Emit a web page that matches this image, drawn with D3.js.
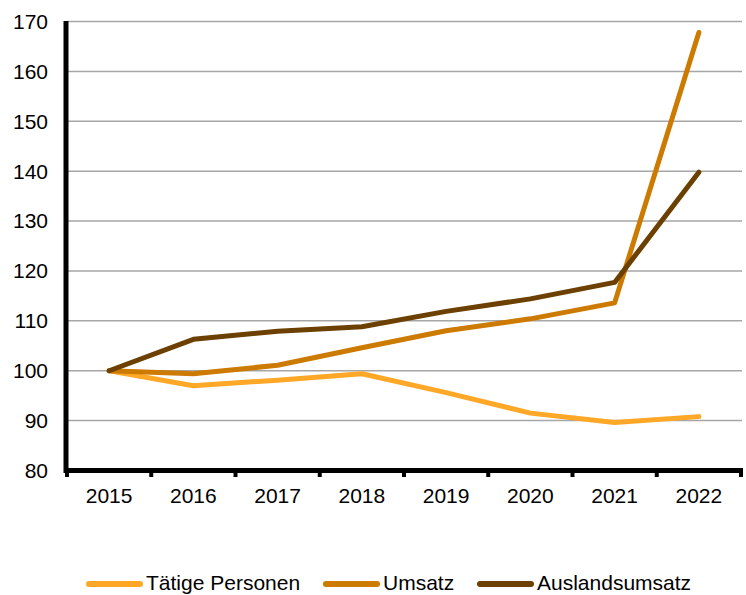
<!DOCTYPE html>
<html>
<head>
<meta charset="utf-8">
<script src="https://cdn.jsdelivr.net/npm/d3@7"></script>
<style>
  body { margin: 0; background: #fff; }
  text { font-family: "Liberation Sans", Arial, sans-serif; fill: #000; }
</style>
</head>
<body>
<script>
// Data
var years = ['2015', '2016', '2017', '2018', '2019', '2020', '2021', '2022'];
var personen = [100, 97.0, 98.1, 99.4, 95.6, 91.5, 89.6, 90.8];
var umsatz = [100, 99.4, 101.1, 104.6, 108.0, 110.4, 113.6, 167.8];
var auslandsumsatz = [100, 106.3, 107.9, 108.8, 111.9, 114.4, 117.7, 139.8];
var yTicks = [80, 90, 100, 110, 120, 130, 140, 150, 160, 170];

var series = [
  { name: 'Tätige Personen', values: personen, color: '#ffa726' },
  { name: 'Umsatz', values: umsatz, color: '#cc7a00' },
  { name: 'Auslandsumsatz', values: auslandsumsatz, color: '#6b4000' }
];

var width = 746,
  height = 595;
var fontSize = 21;

var svg = d3.select('body')
  .append('svg')
  .attr('width', width)
  .attr('height', height);

var x = d3.scaleBand()
  .domain(years)
  .range([67, 741]);

var y = d3.scaleLinear()
  .domain([80, 170])
  .range([470.5, 21.5]);

// Gridlines
svg.append('g')
  .selectAll('line')
  .data(yTicks.filter(function(d) { return d > 80; }))
  .enter()
  .append('line')
  .attr('x1', 67)
  .attr('x2', 742)
  .attr('y1', function(d) { return y(d); })
  .attr('y2', function(d) { return y(d); })
  .attr('stroke', '#a6a6a6')
  .attr('stroke-width', 1.5);

// Y axis labels
svg.append('g')
  .selectAll('text')
  .data(yTicks)
  .enter()
  .append('text')
  .attr('x', 48)
  .attr('y', function(d) { return y(d); })
  .attr('dy', '0.35em')
  .attr('text-anchor', 'end')
  .attr('font-size', fontSize)
  .text(function(d) { return d; });

// X axis labels
svg.append('g')
  .selectAll('text')
  .data(years)
  .enter()
  .append('text')
  .attr('x', function(d) { return x(d) + x.bandwidth() / 2; })
  .attr('y', 503)
  .attr('text-anchor', 'middle')
  .attr('font-size', fontSize)
  .text(function(d) { return d; });

// X tick marks at band edges
var edges = years.map(function(d) { return x(d); }).concat([741]);
svg.append('g')
  .selectAll('line')
  .data(edges)
  .enter()
  .append('line')
  .attr('x1', function(d) { return d; })
  .attr('x2', function(d) { return d; })
  .attr('y1', 470)
  .attr('y2', 477)
  .attr('stroke', '#000')
  .attr('stroke-width', 4);

// Axis lines
svg.append('line')
  .attr('x1', 66).attr('x2', 66)
  .attr('y1', 21).attr('y2', 473)
  .attr('stroke', '#000')
  .attr('stroke-width', 5);
svg.append('line')
  .attr('x1', 64).attr('x2', 743)
  .attr('y1', 470.5).attr('y2', 470.5)
  .attr('stroke', '#000')
  .attr('stroke-width', 5);

// Lines
var line = d3.line()
  .x(function(d, i) { return x(years[i]) + x.bandwidth() / 2; })
  .y(function(d) { return y(d); });

svg.append('g')
  .selectAll('path')
  .data(series)
  .enter()
  .append('path')
  .attr('d', function(d) { return line(d.values); })
  .attr('fill', 'none')
  .attr('stroke', function(d) { return d.color; })
  .attr('stroke-width', 5)
  .attr('stroke-linecap', 'round')
  .attr('stroke-linejoin', 'round');

// Legend
var legendX = [89, 326, 480];
var legend = svg.append('g')
  .selectAll('g')
  .data(series)
  .enter()
  .append('g')
  .attr('transform', function(d, i) { return 'translate(' + legendX[i] + ',584)'; });

legend.append('line')
  .attr('x1', 0)
  .attr('x2', 51)
  .attr('y1', 0)
  .attr('y2', 0)
  .attr('stroke', function(d) { return d.color; })
  .attr('stroke-width', 6)
  .attr('stroke-linecap', 'round');

legend.append('text')
  .attr('x', 57)
  .attr('y', 6)
  .attr('font-size', fontSize)
  .text(function(d) { return d.name; });
</script>
</body>
</html>
